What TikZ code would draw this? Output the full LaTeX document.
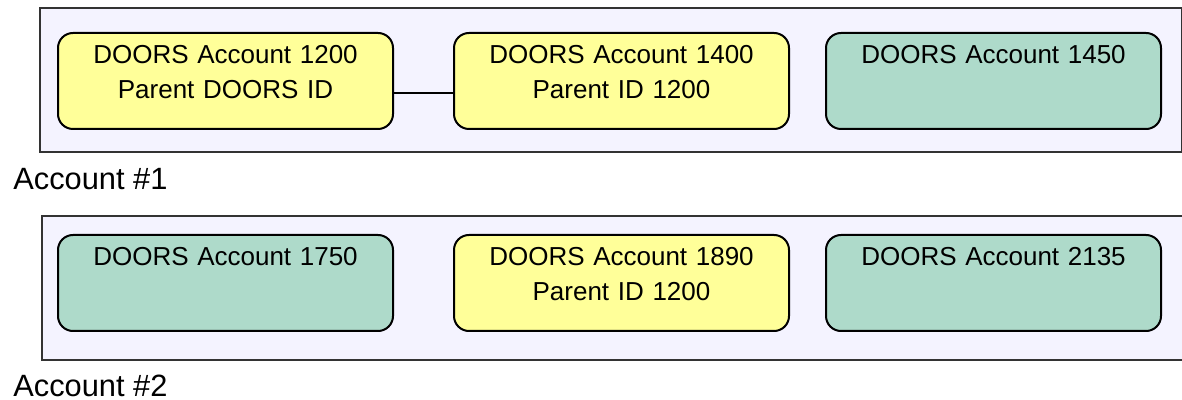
\documentclass[tikz,border=0pt]{standalone}
\usepackage{fontspec}
\setmainfont{Liberation Sans}
\definecolor{grpfill}{RGB}{244,243,255}
\definecolor{parentfill}{RGB}{255,255,153}
\definecolor{plainfill}{RGB}{174,218,202}
\tikzset{
  grp/.style={draw=black!80,line width=0.8pt,fill=grpfill,anchor=north west,inner sep=0pt},
  acct/.style={draw,line width=1pt,rounded corners=7.5pt,anchor=north west,inner sep=0pt,
    text width=167.5pt,minimum width=167.5pt,align=center,text height=15.5pt,text depth=32.5pt,
    font=\fontsize{13pt}{17.5pt}\selectfont},
  parent/.style={acct,fill=parentfill},
  plain/.style={acct,fill=plainfill},
  caption/.style={anchor=base west,inner sep=0pt,font=\fontsize{15.4pt}{18pt}\selectfont}
}
\begin{document}
\begin{tikzpicture}[x=0.5pt,y=-0.5pt]
  \useasboundingbox (0,0) rectangle (1182,400);
  % account 1
  \node[grp,minimum width=571pt,minimum height=72pt] (G1) at (39,7) {};
  \node[parent] (A1) at (57,32) {DOORS Account 1200\\Parent DOORS ID};
  \node[parent] (A2) at (453,32) {DOORS Account 1400\\Parent ID 1200};
  \node[plain] (A3) at (825,32) {DOORS Account 1450};
  \draw[line width=1pt] ([yshift=-6pt]A1.east) -- ([yshift=-6pt]A2.west);
  \node[caption] (L1) at (13,190) {Account \#1};
  % account 2
  \node[grp,minimum width=575pt,minimum height=72pt] (G2) at (41,215) {};
  \node[plain] (B1) at (57,234) {DOORS Account 1750};
  \node[parent] (B2) at (453,234) {DOORS Account 1890\\Parent ID 1200};
  \node[plain] (B3) at (825,234) {DOORS Account 2135};
  \node[caption] (L2) at (13,396) {Account \#2};
\end{tikzpicture}
\end{document}
